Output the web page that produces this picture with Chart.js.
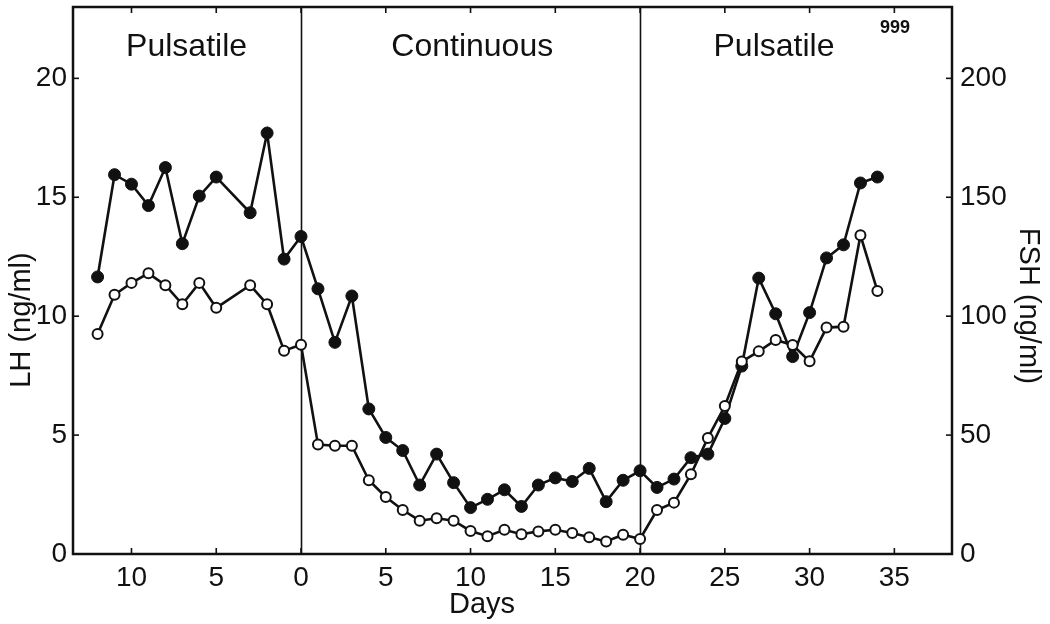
<!DOCTYPE html>
<html>
<head>
<meta charset="utf-8">
<script src="https://cdn.jsdelivr.net/npm/chart.js@4.4.1/dist/chart.umd.min.js"></script>
<style>
    html, body { margin: 0; padding: 0; background: #fff; }
    #wrap { width: 1050px; height: 624px; }
</style>
</head>
<body>
<div id="wrap"><canvas id="hormoneChart"></canvas></div>
<script>
// days relative to start of continuous infusion (no sample on day -4)
const days = [-12, -11, -10, -9, -8, -7, -6, -5, -3, -2, -1, 0,
    1, 2, 3, 4, 5, 6, 7, 8, 9, 10, 11, 12, 13, 14, 15, 16, 17,
    18, 19, 20, 21, 22, 23, 24, 25, 26, 27, 28, 29, 30, 31, 32, 33, 34];

// LH (ng/ml), filled circles, left axis
const lhValues = [11.65, 15.95, 15.55, 14.65, 16.25, 13.05, 15.05, 15.85, 14.35, 17.7, 12.4, 13.35,
    11.15, 8.9, 10.85, 6.1, 4.9, 4.35, 2.9, 4.2, 3.0, 1.95, 2.3, 2.7, 2.0, 2.9, 3.2, 3.05, 3.6,
    2.2, 3.1, 3.5, 2.8, 3.15, 4.05, 4.2, 5.7, 7.9, 11.6, 10.1, 8.3, 10.15, 12.45, 13.0, 15.6, 15.85];

// FSH (ng/ml), open circles, right axis
const fshValues = [92.5, 109, 114, 118, 113, 105, 114, 103.5, 113, 105, 85.5, 88,
    46, 45.5, 45.5, 31, 24, 18.5, 14, 15, 14, 9.7, 7.5, 10.2, 8.3, 9.5, 10.2, 8.8, 7,
    5.3, 8.1, 6.3, 18.5, 21.6, 33.5, 48.8, 62.2, 80.9, 85.2, 90, 87.9, 81, 95.2, 95.6, 134, 110.6];

const xTicks = [-10, -5, 0, 5, 10, 15, 20, 25, 30, 35];
const lhTicks = [0, 5, 10, 15, 20];
const fshTicks = [0, 50, 100, 150, 200];

// phase boundaries (days) and phase labels
const phaseLines = [0, 20];
const phaseLabels = ['Pulsatile', 'Continuous', 'Pulsatile'];
const phaseLabelDays = [-6.75, 10.1, 27.9];

const FONT = '"Liberation Sans", Arial, Helvetica, sans-serif';

const framePlugin = {
    id: 'framePlugin',
    beforeDatasetsDraw(chart) {
        const { ctx, chartArea: a, scales } = chart;
        ctx.save();
        ctx.strokeStyle = '#111';
        ctx.lineWidth = 1.6;
        phaseLines.forEach(d => {
            const px = Math.round(scales.x.getPixelForValue(d)) + 0.5;
            ctx.beginPath();
            ctx.moveTo(px, a.top);
            ctx.lineTo(px, a.bottom);
            ctx.stroke();
        });
        ctx.restore();
    },
    afterDraw(chart) {
        const { ctx, chartArea: a, scales } = chart;
        ctx.save();
        ctx.strokeStyle = '#111';
        ctx.lineWidth = 2.5;
        ctx.strokeRect(a.left, a.top, a.right - a.left, a.bottom - a.top);

        // inward tick marks
        ctx.lineWidth = 1.6;
        const tl = 6;
        xTicks.forEach(v => {
            const px = scales.x.getPixelForValue(v);
            ctx.beginPath();
            ctx.moveTo(px, a.bottom); ctx.lineTo(px, a.bottom - tl);
            ctx.moveTo(px, a.top); ctx.lineTo(px, a.top + tl);
            ctx.stroke();
        });
        lhTicks.forEach(v => {
            const py = scales.y.getPixelForValue(v);
            ctx.beginPath();
            ctx.moveTo(a.left, py); ctx.lineTo(a.left + tl, py);
            ctx.stroke();
        });
        fshTicks.forEach(v => {
            const py = scales.y1.getPixelForValue(v);
            ctx.beginPath();
            ctx.moveTo(a.right, py); ctx.lineTo(a.right - tl, py);
            ctx.stroke();
        });

        // phase labels
        ctx.fillStyle = '#111';
        ctx.textAlign = 'center';
        ctx.textBaseline = 'middle';
        ctx.font = '32px ' + FONT;
        phaseLabels.forEach((t, i) => {
            ctx.fillText(t, scales.x.getPixelForValue(phaseLabelDays[i]), scales.y.getPixelForValue(21.3));
        });
        ctx.font = 'bold 18px "Liberation Sans Narrow", ' + FONT;
        ctx.fillText('999', 895, 28);

        // axis titles
        ctx.font = '29px ' + FONT;
        ctx.fillText('Days', 482, 605);
        ctx.save();
        ctx.translate(22, 320);
        ctx.rotate(-Math.PI / 2);
        ctx.fillText('LH (ng/ml)', 0, 0);
        ctx.restore();
        ctx.save();
        ctx.translate(1028, 306);
        ctx.rotate(Math.PI / 2);
        ctx.fillText('FSH (ng/ml)', 0, 0);
        ctx.restore();
        ctx.restore();
    }
};

// no extra label overflow padding, the frame is placed by hand
function noPad(axis) {
    axis.paddingTop = 0;
    axis.paddingBottom = 0;
    axis.paddingLeft = 0;
    axis.paddingRight = 0;
}

const ctx = document.getElementById('hormoneChart').getContext('2d');

const hormoneChart = new Chart(ctx, {
    type: 'line',
    data: {
        datasets: [
            {
                label: 'FSH',
                data: days.map((d, i) => ({ x: d, y: fshValues[i] })),
                yAxisID: 'y1',
                borderColor: '#111',
                borderWidth: 2.6,
                pointRadius: 5,
                pointBorderWidth: 2,
                pointBackgroundColor: '#fff',
                pointBorderColor: '#111',
                tension: 0
            },
            {
                label: 'LH',
                data: days.map((d, i) => ({ x: d, y: lhValues[i] })),
                yAxisID: 'y',
                borderColor: '#111',
                borderWidth: 2.6,
                pointRadius: 6,
                pointBorderWidth: 1,
                pointBackgroundColor: '#111',
                pointBorderColor: '#111',
                tension: 0
            }
        ]
    },
    options: {
        responsive: true,
        maintainAspectRatio: false,
        animation: false,
        layout: { padding: { top: 5, left: 0, right: 0, bottom: 0 } },
        plugins: {
            legend: { display: false },
            tooltip: { enabled: false }
        },
        scales: {
            x: {
                type: 'linear',
                min: -13.45,
                max: 38.4,
                grid: { display: false, drawTicks: false },
                border: { display: false },
                afterBuildTicks: axis => { axis.ticks = xTicks.map(v => ({ value: v })); },
                afterFit: axis => { axis.height = 70; noPad(axis); },
                ticks: {
                    padding: 7,
                    color: '#111',
                    font: { family: FONT, size: 28 },
                    callback: v => String(Math.abs(v))
                }
            },
            y: {
                position: 'left',
                min: 0,
                max: 23,
                grid: { display: false, drawTicks: false },
                border: { display: false },
                afterBuildTicks: axis => { axis.ticks = lhTicks.map(v => ({ value: v })); },
                afterFit: axis => { axis.width = 73; noPad(axis); },
                ticks: {
                    padding: 6,
                    color: '#111',
                    font: { family: FONT, size: 28 }
                }
            },
            y1: {
                position: 'right',
                min: 0,
                max: 230,
                grid: { display: false, drawTicks: false },
                border: { display: false },
                afterBuildTicks: axis => { axis.ticks = fshTicks.map(v => ({ value: v })); },
                afterFit: axis => { axis.width = 98; noPad(axis); },
                ticks: {
                    padding: 8,
                    color: '#111',
                    font: { family: FONT, size: 28 }
                }
            }
        }
    },
    plugins: [framePlugin]
});
</script>
</body>
</html>
